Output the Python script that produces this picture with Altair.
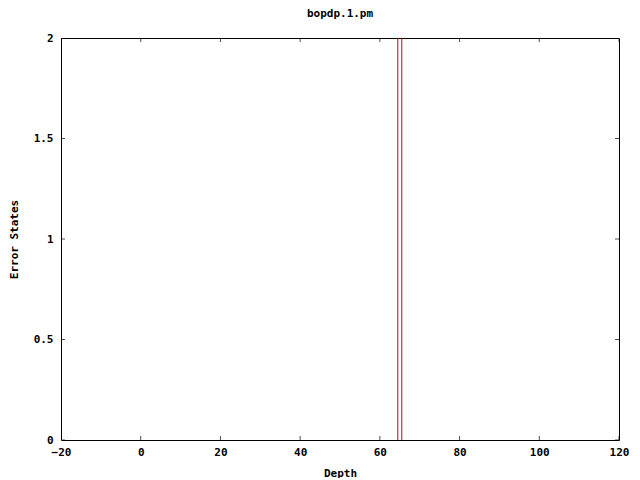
import altair as alt
import pandas as pd

# data
depths = [64.5, 65.5]
error_top = [2, 2]
x_ticks = [-20, 0, 20, 40, 60, 80, 100, 120]
y_ticks = [0, 0.5, 1, 1.5, 2]

FONT = "DejaVu Sans Mono"

df = pd.DataFrame({"depth": depths, "err": error_top})
xt = pd.DataFrame({"v": x_ticks})
yt = pd.DataFrame({"v": y_ticks})

xscale = alt.Scale(domain=[-20, 120], nice=False, zero=False)
yscale = alt.Scale(domain=[0, 2], nice=False, zero=False)

xaxis = alt.Axis(values=x_ticks, title="Depth", tickSize=0, labelPadding=6,
                 titlePadding=10, grid=False, domain=False, labelFont=FONT,
                 labelFontSize=11, labelFontWeight="bold", titleFont=FONT,
                 titleFontSize=11, titleFontWeight="bold", labelColor="black",
                 titleColor="black", labelFlush=False)
yaxis = alt.Axis(values=y_ticks, title="Error States", tickSize=0, labelPadding=8,
                 titlePadding=14, grid=False, domain=False, labelFont=FONT,
                 labelFontSize=11, labelFontWeight="bold", titleFont=FONT,
                 titleFontSize=11, titleFontWeight="bold", labelColor="black",
                 titleColor="black", labelFlush=False, format="~g")

rules = alt.Chart(df).mark_rule(color="#d00000", strokeWidth=1).encode(
    x=alt.X("depth:Q", scale=xscale, axis=xaxis),
    y=alt.Y("zero:Q", scale=yscale, axis=yaxis),
    y2=alt.Y2("err:Q"),
).transform_calculate(zero="0")

xt_bottom = alt.Chart(xt).mark_tick(orient="vertical", size=8, thickness=1,
                                   color="black", clip=True).encode(
    x=alt.X("v:Q", scale=xscale), y=alt.datum(0))
xt_top = alt.Chart(xt).mark_tick(orient="vertical", size=8, thickness=1,
                                color="black", clip=True).encode(
    x=alt.X("v:Q", scale=xscale), y=alt.datum(2))
yt_left = alt.Chart(yt).mark_tick(orient="horizontal", size=8, thickness=1,
                                 color="black", clip=True).encode(
    y=alt.Y("v:Q", scale=yscale), x=alt.datum(-20))
yt_right = alt.Chart(yt).mark_tick(orient="horizontal", size=8, thickness=1,
                                  color="black", clip=True).encode(
    y=alt.Y("v:Q", scale=yscale), x=alt.datum(120))

chart = alt.layer(rules, xt_bottom, xt_top, yt_left, yt_right).properties(
    width=558, height=402,
    background="white",
    title=alt.TitleParams("bopdp.1.pm", font=FONT, fontSize=11, fontWeight="bold",
                          anchor="middle", offset=13, color="black"),
    autosize=alt.AutoSizeParams(type="none"),
    padding={"left": 53, "top": 30, "right": 13, "bottom": 38},
).configure_view(stroke="black", strokeWidth=1)

chart.save("out.html", embed_options={"renderer": "svg", "actions": False})
